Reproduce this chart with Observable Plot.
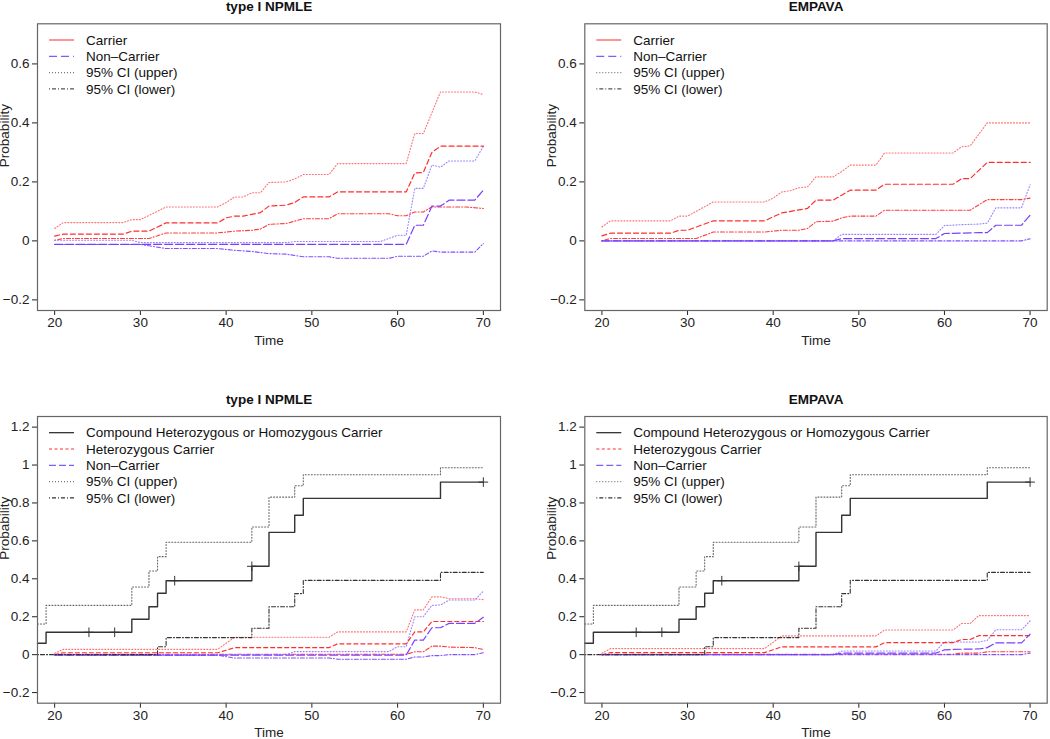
<!DOCTYPE html>
<html><head><meta charset="utf-8">
<script src="https://cdn.jsdelivr.net/npm/d3@7"></script>
<script src="https://cdn.jsdelivr.net/npm/@observablehq/plot@0.6"></script>
<style>
body{margin:0;background:#fff;}
#root{position:relative;width:1050px;height:739px;overflow:hidden;background:#fff;}
.panel{position:absolute;}
.panel svg{display:block;}
</style></head><body><div id="root"></div>
<script>
// ---------- tick labels ----------
const xTicks = [20, 30, 40, 50, 60, 70];
const yTicksTop = [-0.2, 0, 0.2, 0.4, 0.6];
const yTicksBottom = [-0.2, 0, 0.2, 0.4, 0.6, 0.8, 1, 1.2];

// ---------- top row: two groups, [age, probability] ----------
const npmleCarrier = [[20,.016],[21,.023],[28,.023],[29,.033],[31,.033],[33,.061],[39,.061],[40,.078],[41,.084],[42,.084],[43,.09],[44,.096],[45,.118],[47,.121],[48,.13],[49,.149],[52,.149],[53,.166],[61,.166],[62,.23],[63,.232],[64,.30],[65,.321],[70,.321]];
const npmleCarrierUp = [[20,.042],[21,.062],[28,.062],[29,.072],[30,.072],[33,.115],[39,.115],[40,.13],[41,.149],[42,.149],[43,.163],[44,.163],[45,.198],[47,.2],[48,.21],[49,.225],[52,.225],[53,.262],[61,.262],[62,.364],[63,.364],[65,.505],[69,.505],[70,.496]];
const npmleCarrierLo = [[20,.002],[21,.008],[31,.008],[33,.027],[39,.027],[41,.033],[43,.036],[44,.04],[45,.056],[47,.059],[49,.075],[52,.075],[53,.092],[59,.092],[60,.085],[61,.085],[62,.098],[63,.098],[64,.115],[68,.115],[70,.11]];
const npmleNon = [[20,-.012],[61,-.012],[62,.053],[63,.053],[64,.118],[65,.118],[66,.138],[69,.138],[70,.172]];
const npmleNonUp = [[20,.002],[29,.002],[30,-.006],[47,-.006],[48,-.002],[58,-.002],[60,.019],[61,.019],[62,.178],[63,.178],[64,.257],[65,.25],[66,.271],[69,.271],[70,.321]];
const npmleNonLo = [[20,-.012],[30,-.012],[33,-.026],[39,-.026],[41,-.032],[43,-.036],[45,-.043],[47,-.045],[49,-.054],[52,-.054],[53,-.059],[59,-.059],[60,-.052],[63,-.052],[64,-.034],[65,-.038],[69,-.038],[70,-.009]];

const empCarrier = [[20,.017],[21,.026],[28,.026],[29,.036],[30,.036],[33,.068],[39,.068],[41,.095],[43,.105],[44,.11],[45,.138],[47,.138],[49,.172],[52,.172],[53,.192],[61,.192],[62,.211],[63,.211],[65,.266],[70,.266]];
const empCarrierUp = [[20,.047],[21,.068],[28,.068],[29,.084],[30,.084],[33,.132],[39,.132],[40,.145],[41,.166],[42,.17],[43,.18],[44,.183],[45,.217],[47,.217],[48,.235],[49,.257],[52,.257],[53,.298],[61,.298],[62,.319],[63,.322],[65,.4],[70,.4]];
const empCarrierLo = [[20,0],[21,.008],[31,.008],[33,.03],[39,.03],[41,.036],[43,.036],[44,.042],[45,.065],[47,.067],[48,.078],[49,.084],[52,.084],[53,.104],[63,.104],[65,.14],[69,.14],[70,.145]];
const empNon = [[20,0],[47,0],[48,.008],[59,.008],[60,.025],[64,.028],[65,.028],[66,.053],[69,.053],[70,.087]];
const empNonUp = [[20,0],[47,0],[48,.022],[59,.022],[60,.052],[62,.055],[64,.057],[65,.06],[66,.112],[69,.112],[70,.19]];
const empNonLo = [[20,0],[69,0],[70,.007]];

// ---------- bottom row: three groups ----------
const compound = [[18,.06],[19,.118],[29,.187],[31,.253],[32,.324],[33,.39],[43,.466],[45,.645],[48,.735],[49,.824],[65,.91],[70,.91]];
const compoundUp = [[18,.162],[19,.26],[29,.357],[31,.441],[32,.517],[33,.593],[43,.673],[45,.831],[48,.891],[49,.949],[65,.986],[70,.986]];
const compoundLo = [[18,0],[32,.042],[33,.09],[43,.139],[45,.253],[48,.322],[49,.392],[65,.434],[70,.434]];
const censorAges = [24, 27, 34, 43, 70];
const censorValues = [.118, .118, .39, .466, .91];

const npmleHet = [[20,0],[21,.01],[39,.01],[41,.037],[52,.037],[53,.057],[61,.057],[62,.12],[63,.12],[64,.175],[70,.175]];
const npmleHetUp = [[20,.007],[21,.028],[39,.028],[41,.092],[52,.092],[53,.12],[61,.12],[62,.236],[63,.236],[64,.305],[65,.305],[66,.295],[69,.295],[70,.29]];
const npmleHetLo = [[20,0],[21,.002],[61,.002],[62,.015],[63,.015],[64,.045],[65,.045],[66,.04],[69,.037],[70,.027]];
const npmleNon3 = [[20,-.002],[61,-.002],[62,.077],[63,.077],[64,.142],[65,.142],[66,.165],[69,.165],[70,.197]];
const npmleNon3Up = [[20,0],[47,0],[48,.016],[59,.016],[60,.042],[61,.042],[62,.2],[63,.2],[64,.26],[65,.262],[66,.288],[69,.288],[70,.335]];
const npmleNon3Lo = [[20,-.002],[39,-.003],[41,-.018],[52,-.018],[53,-.024],[61,-.024],[62,-.012],[63,-.012],[64,-.005],[65,-.005],[66,0],[69,0],[70,.01]];

const empHet = [[20,0],[21,.011],[39,.011],[41,.041],[52,.041],[53,.063],[61,.063],[62,.08],[63,.08],[64,.1],[70,.1]];
const empHetUp = [[20,.007],[21,.032],[39,.032],[41,.099],[52,.099],[53,.13],[61,.13],[62,.164],[63,.164],[64,.206],[70,.206]];
const empHetLo = [[20,0],[21,.002],[61,.002],[62,.008],[64,.008],[65,.015],[70,.015]];
const empNon3 = [[20,0],[47,0],[48,.008],[59,.008],[60,.025],[61,.028],[64,.03],[65,.037],[66,.062],[69,.062],[70,.108]];
const empNon3Up = [[20,0],[47,0],[48,.019],[59,.019],[60,.067],[64,.067],[65,.075],[66,.131],[69,.131],[70,.178]];
const empNon3Lo = [[20,0],[69,0],[70,.008]];

const legendTop = ["Carrier", "Non\u2013Carrier", "95% CI (upper)", "95% CI (lower)"];
const legendBottom = ["Compound Heterozygous or Homozygous Carrier", "Heterozygous Carrier", "Non\u2013Carrier", "95% CI (upper)", "95% CI (lower)"];

// ---------- styles ----------
const FONT = '"Liberation Sans", Arial, Helvetica, sans-serif';
const RED = "#ff2e2e", RED_DOT = "#ff7070", RED_DD = "#ff3c3c";
const BLU = "#7a40ff", BLU_DOT = "#9d80ff", BLU_DD = "#8050ff";
const S = {
  redDashTop: {stroke: RED, dash: "5,3", w: 1.2},
  redDashBot: {stroke: RED, dash: "4,3", w: 1.2},
  redDot: {stroke: RED_DOT, dash: "1,2", w: 1.1},
  redDD: {stroke: RED_DD, dash: "1,2,4,2", w: 1.1},
  bluDash: {stroke: BLU, dash: "8,3", w: 1.2},
  bluDot: {stroke: BLU_DOT, dash: "1,2", w: 1.1},
  bluDD: {stroke: BLU_DD, dash: "1,2,4,2", w: 1.1},
  blkSolid: {stroke: "#333", dash: null, w: 1.4, curve: "step-after"},
  blkDot: {stroke: "#666", dash: "1,2", w: 1.1, curve: "step-after"},
  blkDD: {stroke: "#333", dash: "1,2,4,2", w: 1.1, curve: "step-after"}
};
const legStylesTop = [
  {stroke: "#ff5050", dash: null},
  {stroke: "#7f5cff", dash: "8,4"},
  {stroke: "#777", dash: "1,2"},
  {stroke: "#555", dash: "1,2,4,2"}
];
const legStylesBottom = [
  {stroke: "#222", dash: null},
  {stroke: "#ff3030", dash: "3,2.5"},
  {stroke: "#7f5cff", dash: "7,3"},
  {stroke: "#777", dash: "1,2"},
  {stroke: "#333", dash: "1,2,4,2"}
];

const rows = arr => arr.map(([t, p]) => ({t, p}));

function panel(cfg) {
  const marks = [];
  for (const s of cfg.series) {
    const st = s.style;
    marks.push(Plot.line(rows(s.data), {
      x: "t", y: "p", stroke: st.stroke, strokeWidth: st.w || 1,
      strokeDasharray: st.dash || undefined, curve: st.curve || "linear"
    }));
  }
  if (cfg.censor) {
    marks.push(Plot.dot(censorAges.map((t, i) => ({t, p: censorValues[i]})), {
      x: "t", y: "p", symbol: "plus", r: 3.2, stroke: "#333", strokeWidth: 1
    }));
  }
  marks.push(Plot.frame({stroke: "#666", strokeWidth: 1.2}));
  marks.push(Plot.text([cfg.title], {text: d => d, frameAnchor: "top", dy: -13, lineAnchor: "bottom", fontWeight: "bold", fontSize: 13.5, fill: "#111"}));
  marks.push(Plot.text(["Time"], {text: d => d, frameAnchor: "bottom", dy: 34, lineAnchor: "bottom", fontSize: 13.5, fill: "#222"}));
  marks.push(Plot.text(["Probability"], {text: d => d, frameAnchor: "left", dx: -29, rotate: -90, lineAnchor: "bottom", fontSize: 13.5, fill: "#222"}));

  const svg = Plot.plot({
    width: cfg.width, height: cfg.height,
    marginLeft: cfg.ml, marginRight: cfg.mr, marginTop: cfg.mt, marginBottom: cfg.mb,
    x: {domain: [18, 72], ticks: xTicks, tickSize: 5, tickPadding: 2, label: null},
    y: {domain: cfg.yDomain, ticks: cfg.yTicks, tickFormat: d3.format("~g"), tickSize: 5, tickPadding: 3, label: null},
    style: {fontFamily: FONT, fontSize: "13.5px", color: "#222", background: "#fff"},
    marks
  });

  // legend inside the frame, top-left
  const g = d3.select(svg).append("g")
    .attr("font-family", FONT).attr("font-size", "13.5px").attr("text-anchor", "start");
  cfg.legend.forEach((label, i) => {
    const st = cfg.legendStyles[i];
    const y = cfg.mt + 16.7 + i * 16.3;
    g.append("line").attr("x1", cfg.ml + 12).attr("x2", cfg.ml + 37).attr("y1", y).attr("y2", y)
      .attr("stroke", st.stroke).attr("stroke-width", 1.2).attr("stroke-dasharray", st.dash);
    g.append("text").attr("x", cfg.ml + 49).attr("y", y).attr("dy", "0.35em")
      .attr("text-anchor", "start").attr("fill", "#111").text(label);
  });

  const div = document.createElement("div");
  div.className = "panel";
  div.style.left = cfg.left + "px";
  div.style.top = cfg.top + "px";
  div.style.width = cfg.width + "px";
  div.style.height = cfg.height + "px";
  div.appendChild(svg);
  document.getElementById("root").appendChild(div);
}

const topGeom = {top: 0, height: 370, mt: 23.3, mb: 60, yDomain: [-0.236, 0.736], yTicks: yTicksTop, legend: legendTop, legendStyles: legStylesTop};
const botGeom = {top: 370, height: 369, mt: 46, mb: 36.3, yDomain: [-0.256, 1.256], yTicks: yTicksBottom, legend: legendBottom, legendStyles: legStylesBottom, censor: true};
const leftGeom = {left: 0, width: 525, ml: 37, mr: 25};
const rightGeom = {left: 547, width: 503, ml: 37.3, mr: 3.3};

panel({...topGeom, ...leftGeom, title: "type I NPMLE", series: [
  {data: npmleCarrierUp, style: S.redDot}, {data: npmleCarrierLo, style: S.redDD},
  {data: npmleNonUp, style: S.bluDot}, {data: npmleNonLo, style: S.bluDD},
  {data: npmleNon, style: S.bluDash}, {data: npmleCarrier, style: S.redDashTop}
]});
panel({...topGeom, ...rightGeom, title: "EMPAVA", series: [
  {data: empCarrierUp, style: S.redDot}, {data: empCarrierLo, style: S.redDD},
  {data: empNonUp, style: S.bluDot}, {data: empNonLo, style: S.bluDD},
  {data: empNon, style: S.bluDash}, {data: empCarrier, style: S.redDashTop}
]});
panel({...botGeom, ...leftGeom, title: "type I NPMLE", series: [
  {data: npmleHetUp, style: S.redDot}, {data: npmleHetLo, style: S.redDD},
  {data: npmleNon3Up, style: S.bluDot}, {data: npmleNon3Lo, style: S.bluDD},
  {data: npmleHet, style: S.redDashBot}, {data: npmleNon3, style: S.bluDash},
  {data: compoundUp, style: S.blkDot}, {data: compoundLo, style: S.blkDD}, {data: compound, style: S.blkSolid}
]});
panel({...botGeom, ...rightGeom, title: "EMPAVA", series: [
  {data: empHetUp, style: S.redDot}, {data: empHetLo, style: S.redDD},
  {data: empNon3Up, style: S.bluDot}, {data: empNon3Lo, style: S.bluDD},
  {data: empHet, style: S.redDashBot}, {data: empNon3, style: S.bluDash},
  {data: compoundUp, style: S.blkDot}, {data: compoundLo, style: S.blkDD}, {data: compound, style: S.blkSolid}
]});
</script></body></html>
